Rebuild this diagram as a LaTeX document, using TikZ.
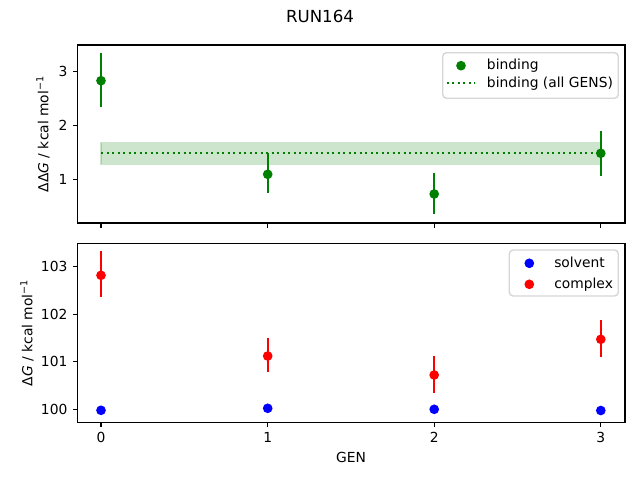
\documentclass[tikz,border=0pt]{standalone}
\usepackage{fontspec}
\setmainfont{DejaVu Sans}
\usetikzlibrary{positioning}
\definecolor{mplgreen}{HTML}{008000}
\definecolor{mplblue}{HTML}{0000FF}
\definecolor{mplred}{HTML}{FF0000}
\definecolor{legframe}{HTML}{CCCCCC}
\tikzset{
	spine/.style={line width=0.8pt,black},
	axtick/.style={line width=0.8pt,black},
	ticklabel/.style={inner sep=0pt,font=\fontsize{10}{12}\selectfont},
	gendot/.style={circle,fill=#1,inner sep=0pt,minimum size=7pt},
	errbar/.style={line width=1.5pt,draw=#1},
	legendbox/.style={draw=legframe,draw opacity=0.8,fill=white,fill opacity=0.8,line width=1pt,rounded corners=2.8pt},
	legendtext/.style={anchor=mid west,inner sep=0pt,font=\fontsize{10}{12}\selectfont},
	allgens/.style={draw=mplgreen,line width=1.5pt,dash pattern=on 1.5pt off 2.475pt},
	band/.style={fill=mplgreen,fill opacity=0.2,draw=mplgreen,draw opacity=0.2,line width=1pt}
}

\begin{document}
\begin{tikzpicture}[x=0.01in,y=-0.01in]
	\useasboundingbox[fill=white] (0,0) rectangle (640,480);
	\node[inner sep=0pt,font=\fontsize{12}{14}\selectfont] (title) at (320,16) {RUN164};
	% upper panel: binding
	\draw[band] (101,142.7) rectangle (600.8,164.3);
	\draw[allgens] (101,153) -- (600.8,153);
	\draw[errbar=mplgreen] (101,53.3) -- (101,106.7);
	\node[gendot=mplgreen] (b0) at (101,80.7) {};
	\draw[errbar=mplgreen] (267.7,152.7) -- (267.7,193.3);
	\node[gendot=mplgreen] (b1) at (267.7,174.3) {};
	\draw[errbar=mplgreen] (434.2,173.3) -- (434.2,214.3);
	\node[gendot=mplgreen] (b2) at (434.2,194) {};
	\draw[errbar=mplgreen] (600.8,130.7) -- (600.8,175.9);
	\node[gendot=mplgreen] (b3) at (600.8,153.3) {};
	\draw[spine] (77.5,45) rectangle (625,223);
	\draw[axtick] (101,223) -- (101,227.9);
	\draw[axtick] (267.7,223) -- (267.7,227.9);
	\draw[axtick] (434.2,223) -- (434.2,227.9);
	\draw[axtick] (600.8,223) -- (600.8,227.9);
	\draw[axtick] (77.5,179.3) -- (72.6,179.3);
	\draw[axtick] (77.5,125.7) -- (72.6,125.7);
	\draw[axtick] (77.5,71.7) -- (72.6,71.7);
	\node[ticklabel,anchor=east] (ty1) at (67.7,179.3) {1};
	\node[ticklabel,anchor=east] (ty2) at (67.7,125.7) {2};
	\node[ticklabel,anchor=east] (ty3) at (67.7,71.7) {3};
	\node[ticklabel,rotate=90] (ylabtop) at (43,134) {ΔΔ\textit{G} / kcal mol\textsuperscript{−1}};
	% legend of upper panel
	\draw[legendbox] (442.7,52.7) rectangle (618.3,98.3);
	\node[gendot=mplgreen] (legb) at (461,65.7) {};
	\coordinate (lega) at (446.7,83.3);
	\coordinate (legaend) at (475,83.3);
	\draw[allgens] (lega) -- (legaend);
	\node[legendtext] (legbtext) at (486.7,65.7) {binding};
	\node[legendtext] (legatext) at (486.7,83.3) {binding (all GENS)};
	% lower panel: solvent and complex
	\node[gendot=mplblue] (s0) at (101,410.3) {};
	\node[gendot=mplblue] (s1) at (267.7,408.3) {};
	\node[gendot=mplblue] (s2) at (434.2,409.3) {};
	\node[gendot=mplblue] (s3) at (600.8,410.5) {};
	\draw[errbar=mplred] (101,251) -- (101,297.3);
	\node[gendot=mplred] (c0) at (101,275.3) {};
	\draw[errbar=mplred] (267.7,338.3) -- (267.7,372.3);
	\node[gendot=mplred] (c1) at (267.7,356) {};
	\draw[errbar=mplred] (434.2,356) -- (434.2,392.7);
	\node[gendot=mplred] (c2) at (434.2,375) {};
	\draw[errbar=mplred] (600.8,320) -- (600.8,357.3);
	\node[gendot=mplred] (c3) at (600.8,339.3) {};
	\draw[spine] (77.5,243.3) rectangle (625,422.3);
	\draw[axtick] (101,422.3) -- (101,427.2);
	\draw[axtick] (267.7,422.3) -- (267.7,427.2);
	\draw[axtick] (434.2,422.3) -- (434.2,427.2);
	\draw[axtick] (600.8,422.3) -- (600.8,427.2);
	\node[ticklabel,anchor=north] (tx0) at (101,432) {0};
	\node[ticklabel,anchor=north] (tx1) at (267.7,432) {1};
	\node[ticklabel,anchor=north] (tx2) at (434.2,432) {2};
	\node[ticklabel,anchor=north] (tx3) at (600.8,432) {3};
	\draw[axtick] (77.5,409.3) -- (72.6,409.3);
	\draw[axtick] (77.5,361.8) -- (72.6,361.8);
	\draw[axtick] (77.5,314.2) -- (72.6,314.2);
	\draw[axtick] (77.5,266.7) -- (72.6,266.7);
	\node[ticklabel,anchor=east] (tz100) at (67.7,409.3) {100};
	\node[ticklabel,anchor=east] (tz101) at (67.7,361.8) {101};
	\node[ticklabel,anchor=east] (tz102) at (67.7,314.2) {102};
	\node[ticklabel,anchor=east] (tz103) at (67.7,266.7) {103};
	\node[ticklabel,rotate=90] (ylabbot) at (27,332.7) {Δ\textit{G} / kcal mol\textsuperscript{−1}};
	\node[ticklabel] (xlab) at (351,457.3) {GEN};
	% legend of lower panel
	\draw[legendbox] (509.3,250) rectangle (618.3,296);
	\node[gendot=mplblue] (legs) at (529.3,263.3) {};
	\node[gendot=mplred] (legc) at (529.3,284.3) {};
	\node[legendtext] (legstext) at (554,263.3) {solvent};
	\node[legendtext] (legctext) at (554,284.3) {complex};
\end{tikzpicture}
\end{document}
